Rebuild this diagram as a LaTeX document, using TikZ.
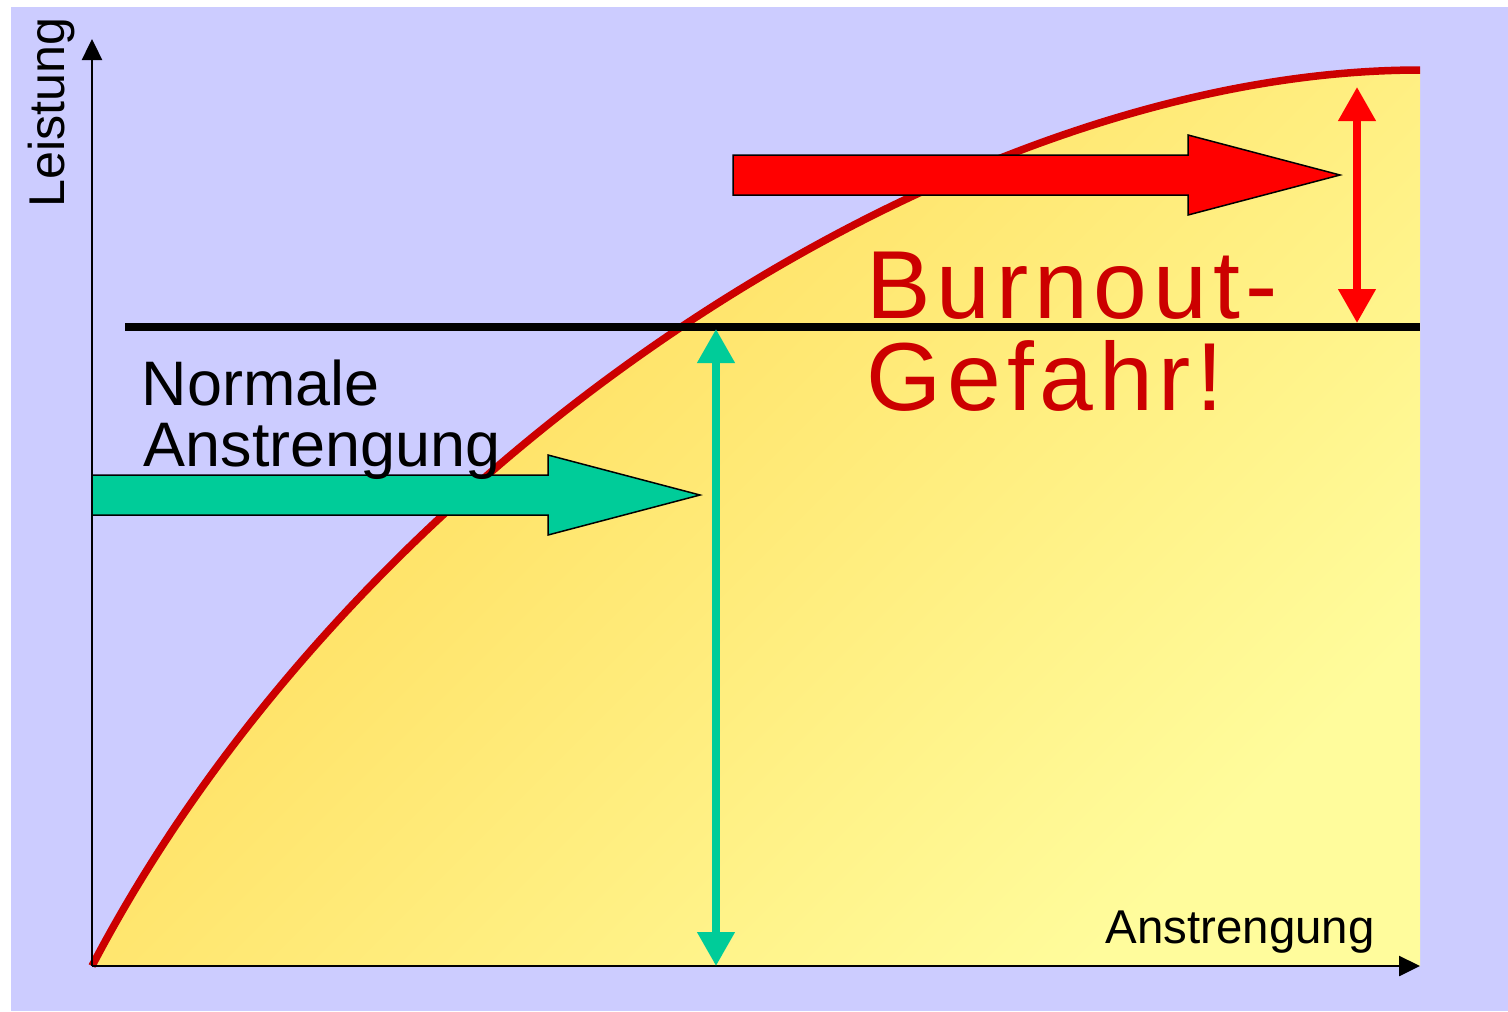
\documentclass[tikz,border=0pt]{standalone}
\usepackage{fontspec}
\setmainfont{Liberation Sans}
\usetikzlibrary{arrows.meta}
\definecolor{lavender}{HTML}{CCCCFF}
\definecolor{gold}{HTML}{FFD955}
\definecolor{paleyellow}{HTML}{FFFC9C}
\definecolor{curvered}{HTML}{CC0000}
\definecolor{signalred}{HTML}{FF0000}
\definecolor{mint}{HTML}{00CC99}

\begin{document}
\begin{tikzpicture}[x=0.1mm, y=-0.1mm,
				every node/.style={inner sep=0pt, anchor=base west},
				axis/.style={line width=0.25mm, -{Triangle[length=2.1mm, width=2mm]}},
				curve/.style={draw=curvered, line width=0.75mm},
				limit/.style={line width=0.8mm},
				span/.style={line width=0.75mm, {Triangle[length=3.4mm, width=3.6mm]}-{Triangle[length=3.4mm, width=3.6mm]}},
				blockarrow/.style={draw=black, line width=0.15mm},
				small label/.style={font=\fontsize{13.5}{16}\selectfont},
				mid label/.style={font=\fontsize{17.9}{20}\selectfont},
				big label/.style={font=\fontsize{27.5}{30}\selectfont\addfontfeatures{LetterSpace=6}, text=curvered}
				]
				\useasboundingbox (0,0) rectangle (1508,1011);
				\fill[lavender] (11,7) rectangle (1508,1011);

				% axes and curve points
				\coordinate (origin) at (92,966);
				\coordinate (ytip) at (92,39);
				\coordinate (xtip) at (1420,966);
				\coordinate (peak) at (1420,70);

				% area below the curve
				\shade[shading=axis, top color=gold, bottom color=paleyellow, shading angle=45]
					(origin) .. controls (356,461) and (950,70) .. (peak) -- (xtip) -- cycle;
				\draw[curve] (origin) .. controls (356,461) and (950,70) .. (peak);

				\draw[axis] (origin) -- (ytip);
				\draw[axis] (origin) -- (xtip);

				% limit line
				\coordinate (limitl) at (125,327);
				\coordinate (limitr) at (1420,327);
				\draw[limit] (limitl) -- (limitr);

				% block arrows
				\draw[blockarrow, fill=mint] (92,475) -- (548,475) -- (548,455) -- (700,495)
					-- (548,535) -- (548,515) -- (92,515) -- cycle;
				\draw[blockarrow, fill=signalred] (733,155) -- (1188,155) -- (1188,135) -- (1340,175)
					-- (1188,215) -- (1188,195) -- (733,195) -- cycle;

				% spans
				\coordinate (gtop) at (716,329);
				\coordinate (gbot) at (716,966);
				\coordinate (rtop) at (1357,87);
				\coordinate (rbot) at (1357,323);
				\draw[span, mint] (gtop) -- (gbot);
				\draw[span, signalred] (rtop) -- (rbot);

				% texts
				\node[small label, font=\fontsize{14.3}{16}\selectfont, rotate=90] (ylabel) at (64,208) {Leistung};
				\node[small label] (xlabel) at (1105,943) {Anstrengung};
				\node[mid label] (normal) at (141,405) {Normale};
				\node[mid label] (effort) at (143,466) {Anstrengung};
				\node[big label] (burnout) at (866,318) {Burnout-};
				\node[big label] (danger) at (866,410) {Gefahr!};
			\end{tikzpicture}
\end{document}
